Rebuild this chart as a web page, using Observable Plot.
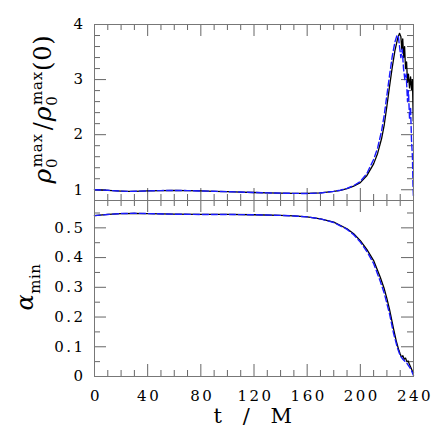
<!DOCTYPE html>
<html>
<head>
<meta charset="utf-8">
<script src="https://cdn.jsdelivr.net/npm/d3@7"></script>
<script src="https://cdn.jsdelivr.net/npm/@observablehq/plot@0.6"></script>
<style>
  html, body { margin: 0; padding: 0; background: white; overflow: hidden; }
  #chart { width: 436px; height: 436px; position: relative; }
</style>
</head>
<body>
<div id="chart"></div>
<script>
// ---- data ----
const tRhoBlack = [0, 10, 20, 25, 30, 40, 50, 60, 70, 80, 90, 100, 110, 120, 130, 140, 150, 160, 170, 180, 185, 190, 195, 200, 205, 210, 213, 216, 218, 220, 222, 224, 226, 228, 229.5, 230.5, 231.2, 231.9, 232.6, 233.3, 234, 234.8, 235.5, 236.2, 237, 237.8, 238.5, 239.2, 239.8];
const rhoBlack  = [1.0, 0.99, 0.975, 0.97, 0.972, 0.98, 0.985, 0.988, 0.985, 0.978, 0.972, 0.965, 0.958, 0.95, 0.944, 0.938, 0.934, 0.933, 0.942, 0.97, 0.99, 1.02, 1.065, 1.13, 1.26, 1.47, 1.66, 1.93, 2.18, 2.52, 2.88, 3.22, 3.52, 3.74, 3.84, 3.78, 3.55, 3.74, 3.4, 3.6, 3.2, 3.32, 2.95, 3.1, 2.85, 3.05, 2.82, 3.0, 2.25];

const tRhoBlue = [0, 10, 20, 25, 30, 40, 50, 60, 70, 80, 90, 100, 110, 120, 130, 140, 150, 160, 170, 180, 185, 190, 195, 200, 205, 210, 213, 216, 218, 220, 222, 224, 226, 227.5, 228.5, 229.5, 230.5, 231.5, 232.5, 233.5, 234.5, 235.5, 236.2, 237, 237.8, 238.5, 239.2, 239.6, 240];
const rhoBlue  = [1.0, 0.99, 0.975, 0.97, 0.972, 0.98, 0.985, 0.988, 0.985, 0.978, 0.972, 0.965, 0.958, 0.95, 0.944, 0.938, 0.934, 0.933, 0.942, 0.97, 0.992, 1.025, 1.075, 1.15, 1.3, 1.55, 1.76, 2.07, 2.36, 2.72, 3.08, 3.42, 3.68, 3.8, 3.8, 3.6, 3.4, 3.55, 3.2, 3.0, 3.1, 2.6, 2.8, 2.3, 2.5, 1.9, 1.6, 1.1, 0.85];

const tAlphaBlack = [0, 10, 20, 30, 40, 60, 80, 100, 120, 140, 150, 160, 170, 180, 190, 195, 200, 205, 210, 215, 218, 220, 222, 225, 227, 229, 230, 231, 232, 233, 234, 235, 236, 237, 238, 239, 240];
const alphaBlack  = [0.541, 0.545, 0.548, 0.549, 0.548, 0.546, 0.545, 0.545, 0.544, 0.542, 0.54, 0.537, 0.53, 0.519, 0.497, 0.48, 0.457, 0.427, 0.39, 0.334, 0.295, 0.262, 0.225, 0.16, 0.12, 0.088, 0.076, 0.065, 0.07, 0.058, 0.062, 0.05, 0.052, 0.04, 0.03, 0.02, 0.012];

const tAlphaBlue = [0, 10, 20, 30, 40, 60, 80, 100, 120, 140, 150, 160, 170, 180, 190, 195, 200, 205, 210, 215, 218, 220, 222, 225, 228, 230, 232, 235, 238, 240];
const alphaBlue  = [0.541, 0.545, 0.548, 0.549, 0.548, 0.546, 0.545, 0.545, 0.544, 0.542, 0.54, 0.537, 0.53, 0.518, 0.495, 0.477, 0.452, 0.42, 0.38, 0.32, 0.28, 0.245, 0.21, 0.145, 0.095, 0.07, 0.058, 0.045, 0.025, 0.003];

const xMajor = [0, 40, 80, 120, 160, 200, 240];
const xMinor = [10, 20, 30, 50, 60, 70, 90, 100, 110, 130, 140, 150, 170, 180, 190, 210, 220, 230];
const yTopMajor = [1, 2, 3, 4];
const yTopMinor = [1.2, 1.4, 1.6, 1.8, 2.2, 2.4, 2.6, 2.8, 3.2, 3.4, 3.6, 3.8];
const yBotMajor = [0, 0.1, 0.2, 0.3, 0.4, 0.5];
const yBotMinor = [0.05, 0.15, 0.25, 0.35, 0.45, 0.55];
const xTickLabels = ["0", "40", "80", "120", "160", "200", "240"];
const yTopLabels = ["1", "2", "3", "4"];
const yBotLabels = ["0", "0.1", "0.2", "0.3", "0.4", "0.5"];
const xTitle = "t\u00a0\u00a0/\u00a0\u00a0M";

// ---- layout ----
const W = 436, ML = 94, MR = 23;
const innerW = W - ML - MR;
const topH = 200, topMT = 24, topInnerH = topH - topMT;
const botH = 236, botMB = 60, botInnerH = botH - botMB;
const MAJ = 12, MIN = 6;
const tickColor = "#666", frameColor = "#777";
const blue = "#1a1aff";
const fontStyle = {fontFamily: "DejaVu Serif", fontSize: "15px", letterSpacing: "2.5px", background: "white", color: "black"};

function tickMarks(xMaj, xMin, yMaj, yMin, innerH) {
  const m = [];
  // bottom and top edges
  m.push(Plot.tickX(xMin, {x: d => d, insetTop: innerH - MIN, stroke: tickColor}));
  m.push(Plot.tickX(xMaj, {x: d => d, insetTop: innerH - MAJ, stroke: tickColor}));
  m.push(Plot.tickX(xMin, {x: d => d, insetBottom: innerH - MIN, stroke: tickColor}));
  m.push(Plot.tickX(xMaj, {x: d => d, insetBottom: innerH - MAJ, stroke: tickColor}));
  // left and right edges
  m.push(Plot.tickY(yMin, {y: d => d, insetRight: innerW - MIN, stroke: tickColor}));
  m.push(Plot.tickY(yMaj, {y: d => d, insetRight: innerW - MAJ, stroke: tickColor}));
  m.push(Plot.tickY(yMin, {y: d => d, insetLeft: innerW - MIN, stroke: tickColor}));
  m.push(Plot.tickY(yMaj, {y: d => d, insetLeft: innerW - MAJ, stroke: tickColor}));
  return m;
}

const topPlot = Plot.plot({
  width: W, height: topH,
  marginTop: topMT, marginBottom: 0, marginLeft: ML, marginRight: MR,
  style: fontStyle,
  x: {domain: [0, 240], axis: null},
  y: {domain: [0.805, 4]},
  marks: [
    ...tickMarks(xMajor, xMinor, yTopMajor, yTopMinor, topInnerH),
    Plot.line(tRhoBlack, {x: d => d, y: (d, i) => rhoBlack[i], stroke: "black", strokeWidth: 1.3}),
    Plot.line(tRhoBlue, {x: d => d, y: (d, i) => rhoBlue[i], stroke: blue, strokeWidth: 1.4, strokeDasharray: "6,3"}),
    Plot.frame({stroke: frameColor}),
    Plot.axisY(yTopMajor, {tickSize: 0, tickPadding: 9, label: null, tickFormat: (d, i) => yTopLabels[i], fontSize: 15})
  ]
});

const botPlot = Plot.plot({
  width: W, height: botH,
  marginTop: 0, marginBottom: botMB, marginLeft: ML, marginRight: MR,
  style: fontStyle,
  x: {domain: [0, 240]},
  y: {domain: [0, 0.592]},
  marks: [
    ...tickMarks(xMajor, xMinor, yBotMajor, yBotMinor, botInnerH),
    Plot.line(tAlphaBlack, {x: d => d, y: (d, i) => alphaBlack[i], stroke: "black", strokeWidth: 1.3}),
    Plot.line(tAlphaBlue, {x: d => d, y: (d, i) => alphaBlue[i], stroke: blue, strokeWidth: 1.4, strokeDasharray: "6,3"}),
    Plot.frame({stroke: frameColor}),
    Plot.axisY(yBotMajor, {tickSize: 0, tickPadding: 9, label: null, tickFormat: (d, i) => yBotLabels[i], fontSize: 15}),
    Plot.axisX(xMajor, {tickSize: 0, tickPadding: 14, label: null, tickFormat: (d, i) => xTickLabels[i], fontSize: 15, dx: 1.5}),
    Plot.text([xTitle], {frameAnchor: "bottom", dy: 46, fontSize: 21, text: d => d})
  ]
});

const chart = document.getElementById("chart");
chart.appendChild(topPlot);
chart.appendChild(botPlot);

// ---- rotated y-axis titles with sub/superscripts ----
function addRho(sel) {
  sel.append("tspan").attr("font-style", "italic").attr("font-size", 25).text("ρ");
  sel.append("tspan").attr("font-size", 15).attr("dy", 6).text("0");
  sel.append("tspan").attr("font-size", 15).attr("dx", -9.5).attr("dy", -15).text("max");
}
const svgTop = d3.select(topPlot);
const gTop = svgTop.append("g").attr("transform", "translate(51,109) rotate(-90)");
const tTop = gTop.append("text").attr("text-anchor", "middle").attr("font-family", "DejaVu Serif")
  .attr("font-size", 24).attr("letter-spacing", "0.8px").attr("fill", "black");
addRho(tTop);
tTop.append("tspan").attr("font-size", 24).attr("dy", 9).attr("dx", 3).text("/");
addRho(tTop);
tTop.append("tspan").attr("font-size", 24).attr("dy", 9).text("(0)");

const svgBot = d3.select(botPlot);
const gBot = svgBot.append("g").attr("transform", "translate(33,87) rotate(-90)");
const tBot = gBot.append("text").attr("text-anchor", "middle").attr("font-family", "DejaVu Serif")
  .attr("font-size", 24).attr("letter-spacing", "0.5px").attr("fill", "black");
tBot.append("tspan").attr("font-style", "italic").text("α");
tBot.append("tspan").attr("font-size", 15).attr("dy", 7).text("min");
</script>
</body>
</html>
